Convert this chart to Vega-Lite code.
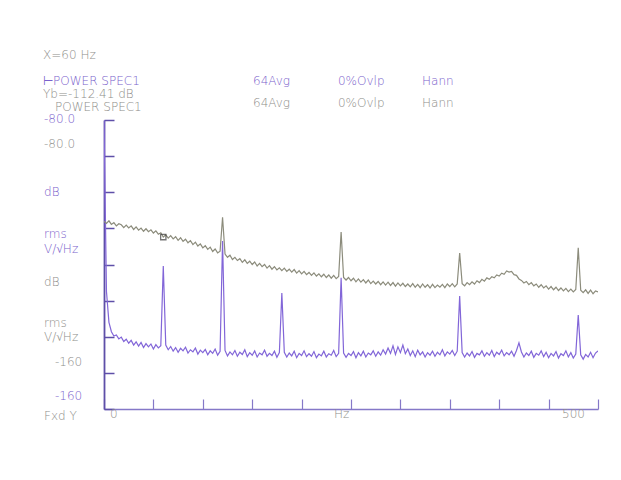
{
  "$schema": "https://vega.github.io/schema/vega-lite/v6.json",
  "autosize": "none",
  "width": 494,
  "height": 289,
  "padding": {"left": 104, "top": 120, "right": 23, "bottom": 71},
  "background": "#ffffff",
  "config": {"view": {"stroke": null}},
  "datasets": {
    "spec": [
{"f":0,"g":-108.0,"p":-80},{"f":2.5,"g":-108.6,"p":-127.5},{"f":5,"g":-107.9,"p":-136.0},{"f":7.5,"g":-108.9,"p":-138.6},
{"f":10,"g":-108.4,"p":-139.8},{"f":12.5,"g":-109.3,"p":-139.5},{"f":15,"g":-108.7,"p":-140.6},{"f":17.5,"g":-109.0,"p":-140.1},
{"f":20,"g":-109.8,"p":-141.3},{"f":22.5,"g":-109.1,"p":-140.7},{"f":25,"g":-109.9,"p":-141.8},{"f":27.5,"g":-109.3,"p":-141.0},
{"f":30,"g":-110.3,"p":-142.3},{"f":32.5,"g":-109.6,"p":-141.4},{"f":35,"g":-110.5,"p":-142.6},{"f":37.5,"g":-109.9,"p":-141.6},
{"f":40,"g":-110.8,"p":-143.0},{"f":42.5,"g":-110.1,"p":-141.9},{"f":45,"g":-110.9,"p":-142.8},{"f":47.5,"g":-110.4,"p":-142.0},
{"f":50,"g":-111.3,"p":-143.4},{"f":52.5,"g":-110.7,"p":-142.2},{"f":55,"g":-111.6,"p":-143.1},{"f":57.5,"g":-111.2,"p":-142.5},
{"f":60,"g":-112.4,"p":-120.4},{"f":62.5,"g":-111.8,"p":-142.3},{"f":65,"g":-112.7,"p":-143.6},{"f":67.5,"g":-112.0,"p":-142.7},
{"f":70,"g":-112.9,"p":-144.0},{"f":72.5,"g":-112.3,"p":-143.0},{"f":75,"g":-113.3,"p":-144.3},{"f":77.5,"g":-112.6,"p":-143.2},
{"f":80,"g":-113.6,"p":-143.9},{"f":82.5,"g":-113.0,"p":-142.9},{"f":85,"g":-114.0,"p":-144.5},{"f":87.5,"g":-113.4,"p":-143.6},
{"f":90,"g":-114.5,"p":-144.2},{"f":92.5,"g":-113.8,"p":-143.1},{"f":95,"g":-114.9,"p":-144.8},{"f":97.5,"g":-114.3,"p":-143.7},
{"f":100,"g":-115.4,"p":-144.4},{"f":102.5,"g":-114.8,"p":-143.5},{"f":105,"g":-115.8,"p":-145.0},{"f":107.5,"g":-115.2,"p":-143.9},
{"f":110,"g":-116.4,"p":-144.6},{"f":112.5,"g":-115.7,"p":-143.4},{"f":115,"g":-116.8,"p":-145.1},{"f":117.5,"g":-116.3,"p":-144.0},
{"f":120,"g":-106.9,"p":-113.5},{"f":122.5,"g":-117.1,"p":-143.8},{"f":125,"g":-118.0,"p":-145.3},{"f":127.5,"g":-117.4,"p":-144.2},
{"f":130,"g":-118.6,"p":-145.0},{"f":132.5,"g":-118.0,"p":-143.8},{"f":135,"g":-118.9,"p":-145.4},{"f":137.5,"g":-118.4,"p":-144.3},
{"f":140,"g":-119.4,"p":-144.9},{"f":142.5,"g":-118.7,"p":-143.6},{"f":145,"g":-119.7,"p":-145.5},{"f":147.5,"g":-119.1,"p":-144.4},
{"f":150,"g":-120.0,"p":-145.1},{"f":152.5,"g":-119.3,"p":-143.9},{"f":155,"g":-120.4,"p":-145.6},{"f":157.5,"g":-119.7,"p":-144.5},
{"f":160,"g":-120.6,"p":-145.0},{"f":162.5,"g":-120.0,"p":-143.7},{"f":165,"g":-121.0,"p":-145.4},{"f":167.5,"g":-120.3,"p":-144.6},
{"f":170,"g":-121.3,"p":-145.2},{"f":172.5,"g":-120.6,"p":-144.0},{"f":175,"g":-121.5,"p":-145.7},{"f":177.5,"g":-120.9,"p":-144.4},
{"f":180,"g":-121.7,"p":-127.9},{"f":182.5,"g":-121.0,"p":-144.3},{"f":185,"g":-121.9,"p":-145.6},{"f":187.5,"g":-121.3,"p":-144.5},
{"f":190,"g":-122.1,"p":-145.3},{"f":192.5,"g":-121.4,"p":-144.0},{"f":195,"g":-122.4,"p":-145.8},{"f":197.5,"g":-121.7,"p":-144.6},
{"f":200,"g":-122.6,"p":-145.2},{"f":202.5,"g":-121.9,"p":-143.9},{"f":205,"g":-122.8,"p":-145.5},{"f":207.5,"g":-122.2,"p":-144.7},
{"f":210,"g":-123.0,"p":-145.4},{"f":212.5,"g":-122.3,"p":-144.1},{"f":215,"g":-123.2,"p":-145.8},{"f":217.5,"g":-122.6,"p":-144.8},
{"f":220,"g":-123.4,"p":-145.3},{"f":222.5,"g":-122.7,"p":-144.0},{"f":225,"g":-123.6,"p":-145.6},{"f":227.5,"g":-122.9,"p":-144.7},
{"f":230,"g":-123.8,"p":-145.1},{"f":232.5,"g":-123.0,"p":-143.8},{"f":235,"g":-123.9,"p":-145.5},{"f":237.5,"g":-123.3,"p":-144.6},
{"f":240,"g":-111.0,"p":-123.7},{"f":242.5,"g":-123.6,"p":-144.5},{"f":245,"g":-124.3,"p":-145.7},{"f":247.5,"g":-123.6,"p":-144.6},
{"f":250,"g":-124.5,"p":-145.2},{"f":252.5,"g":-123.8,"p":-144.1},{"f":255,"g":-124.8,"p":-145.8},{"f":257.5,"g":-124.0,"p":-144.4},
{"f":260,"g":-124.9,"p":-145.3},{"f":262.5,"g":-124.2,"p":-144.0},{"f":265,"g":-125.1,"p":-145.6},{"f":267.5,"g":-124.3,"p":-144.5},
{"f":270,"g":-125.3,"p":-145.0},{"f":272.5,"g":-124.6,"p":-143.9},{"f":275,"g":-125.4,"p":-145.4},{"f":277.5,"g":-124.7,"p":-144.2},
{"f":280,"g":-125.6,"p":-145.1},{"f":282.5,"g":-124.8,"p":-143.6},{"f":285,"g":-125.7,"p":-144.8},{"f":287.5,"g":-124.9,"p":-143.1},
{"f":290,"g":-125.8,"p":-144.6},{"f":292.5,"g":-125.0,"p":-142.5},{"f":295,"g":-126.0,"p":-144.9},{"f":297.5,"g":-125.1,"p":-142.8},
{"f":300,"g":-125.9,"p":-144.4},{"f":302.5,"g":-125.2,"p":-142.3},{"f":305,"g":-126.1,"p":-144.7},{"f":307.5,"g":-125.4,"p":-143.4},
{"f":310,"g":-126.2,"p":-145.2},{"f":312.5,"g":-125.3,"p":-143.9},{"f":315,"g":-126.3,"p":-145.5},{"f":317.5,"g":-125.5,"p":-143.7},
{"f":320,"g":-126.4,"p":-145.0},{"f":322.5,"g":-125.4,"p":-144.2},{"f":325,"g":-126.3,"p":-145.6},{"f":327.5,"g":-125.6,"p":-144.4},
{"f":330,"g":-126.5,"p":-145.1},{"f":332.5,"g":-125.5,"p":-144.0},{"f":335,"g":-126.4,"p":-145.4},{"f":337.5,"g":-125.7,"p":-144.3},
{"f":340,"g":-126.3,"p":-145.0},{"f":342.5,"g":-125.5,"p":-143.6},{"f":345,"g":-126.4,"p":-145.3},{"f":347.5,"g":-125.4,"p":-144.2},
{"f":350,"g":-126.1,"p":-144.8},{"f":352.5,"g":-125.3,"p":-143.8},{"f":355,"g":-126.2,"p":-145.2},{"f":357.5,"g":-125.4,"p":-144.0},
{"f":360,"g":-116.8,"p":-128.7},{"f":362.5,"g":-125.3,"p":-144.4},{"f":365,"g":-125.9,"p":-145.6},{"f":367.5,"g":-125.0,"p":-144.5},
{"f":370,"g":-125.6,"p":-145.3},{"f":372.5,"g":-124.8,"p":-144.1},{"f":375,"g":-125.4,"p":-145.7},{"f":377.5,"g":-124.5,"p":-144.6},
{"f":380,"g":-125.0,"p":-145.0},{"f":382.5,"g":-124.1,"p":-143.9},{"f":385,"g":-124.6,"p":-145.4},{"f":387.5,"g":-123.7,"p":-144.4},
{"f":390,"g":-124.1,"p":-145.1},{"f":392.5,"g":-123.4,"p":-143.8},{"f":395,"g":-123.7,"p":-145.5},{"f":397.5,"g":-122.9,"p":-144.3},
{"f":400,"g":-123.2,"p":-144.9},{"f":402.5,"g":-122.4,"p":-143.7},{"f":405,"g":-122.7,"p":-145.3},{"f":407.5,"g":-121.8,"p":-144.4},
{"f":410,"g":-122.1,"p":-145.0},{"f":412.5,"g":-121.9,"p":-144.0},{"f":415,"g":-122.8,"p":-145.4},{"f":417.5,"g":-123.0,"p":-143.8},
{"f":420,"g":-124.0,"p":-141.7},{"f":422.5,"g":-124.4,"p":-144.2},{"f":425,"g":-125.1,"p":-145.6},{"f":427.5,"g":-124.7,"p":-144.5},
{"f":430,"g":-125.6,"p":-145.2},{"f":432.5,"g":-125.0,"p":-144.0},{"f":435,"g":-125.9,"p":-145.7},{"f":437.5,"g":-125.4,"p":-144.6},
{"f":440,"g":-126.3,"p":-145.1},{"f":442.5,"g":-125.6,"p":-143.9},{"f":445,"g":-126.5,"p":-145.5},{"f":447.5,"g":-125.9,"p":-144.3},
{"f":450,"g":-126.8,"p":-145.8},{"f":452.5,"g":-126.1,"p":-144.6},{"f":455,"g":-127.0,"p":-145.3},{"f":457.5,"g":-126.3,"p":-144.1},
{"f":460,"g":-127.2,"p":-145.9},{"f":462.5,"g":-126.5,"p":-144.7},{"f":465,"g":-127.3,"p":-145.2},{"f":467.5,"g":-126.6,"p":-143.9},
{"f":470,"g":-127.5,"p":-145.6},{"f":472.5,"g":-126.8,"p":-144.4},{"f":475,"g":-127.6,"p":-145.9},{"f":477.5,"g":-126.9,"p":-144.8},
{"f":480,"g":-115.4,"p":-134.0},{"f":482.5,"g":-127.1,"p":-145.0},{"f":485,"g":-127.8,"p":-146.2},{"f":487.5,"g":-127.0,"p":-144.9},
{"f":490,"g":-128.0,"p":-145.6},{"f":492.5,"g":-127.1,"p":-144.3},{"f":495,"g":-128.1,"p":-145.8},{"f":497.5,"g":-127.3,"p":-144.5},
{"f":500,"g":-127.6,"p":-143.9}
    ],
    "marker": [{"f": 60, "db": -112.41}],
    "labels": [
      {"f": -61.7, "db": -63.11, "t": "X=60 Hz", "c": "g"},
      {"f": -61.7, "db": -70.31, "t": "⊢POWER SPEC1", "c": "p"},
      {"f": 150.8, "db": -70.31, "t": "64Avg", "c": "p"},
      {"f": 236.8, "db": -70.31, "t": "0%Ovlp", "c": "p"},
      {"f": 321.9, "db": -70.31, "t": "Hann", "c": "p"},
      {"f": -61.7, "db": -73.91, "t": "Yb=-112.41 dB", "c": "g"},
      {"f": -49.6, "db": -77.51, "t": "POWER SPEC1", "c": "g"},
      {"f": 150.8, "db": -76.40, "t": "64Avg", "c": "g"},
      {"f": 236.8, "db": -76.40, "t": "0%Ovlp", "c": "g"},
      {"f": 321.9, "db": -76.40, "t": "Hann", "c": "g"},
      {"f": -60.7, "db": -80.83, "t": "-80.0", "c": "p"},
      {"f": -60.7, "db": -87.75, "t": "-80.0", "c": "g"},
      {"f": -60.7, "db": -101.04, "t": "dB", "c": "p"},
      {"f": -60.7, "db": -112.67, "t": "rms", "c": "p"},
      {"f": -60.7, "db": -116.82, "t": "V/√Hz", "c": "p"},
      {"f": -60.7, "db": -125.95, "t": "dB", "c": "g"},
      {"f": -60.7, "db": -137.30, "t": "rms", "c": "g"},
      {"f": -60.7, "db": -141.18, "t": "V/√Hz", "c": "g"},
      {"f": -49.6, "db": -148.10, "t": "-160", "c": "g"},
      {"f": -49.6, "db": -157.51, "t": "-160", "c": "p"},
      {"f": -60.7, "db": -163.05, "t": "Fxd Y", "c": "g"},
      {"f": 6.1, "db": -162.49, "t": "0", "c": "g"},
      {"f": 232.8, "db": -162.49, "t": "Hz", "c": "g"},
      {"f": 463.6, "db": -162.49, "t": "500", "c": "g"}
    ]
  },
  "encoding": {
    "x": {
      "field": "f", "type": "quantitative",
      "scale": {"domain": [0, 500], "nice": false, "zero": false},
      "axis": {
        "values": [0, 50, 100, 150, 200, 250, 300, 350, 400, 450, 500],
        "labels": false, "title": null, "grid": false,
        "tickSize": -10, "tickColor": "#8578c8", "tickWidth": 1.2,
        "domainColor": "#8578c8", "domainWidth": 1.5
      }
    },
    "y": {
      "field": "db", "type": "quantitative",
      "scale": {"domain": [-160, -80], "nice": false, "zero": false},
      "axis": {
        "values": [-160, -150, -140, -130, -120, -110, -100, -90, -80],
        "labels": false, "title": null, "grid": false,
        "tickSize": -10, "tickColor": "#5e4fa8", "tickWidth": 1.5,
        "domainColor": "#5e4fa8", "domainWidth": 1.8
      }
    }
  },
  "layer": [
    {
      "data": {"name": "spec"},
      "transform": [{"fold": ["p"], "as": ["s", "db"]}],
      "mark": {"type": "line", "color": "#8266d8", "strokeWidth": 1.2, "clip": true}
    },
    {
      "data": {"name": "spec"},
      "transform": [{"fold": ["g"], "as": ["s", "db"]}],
      "mark": {"type": "line", "color": "#8c8c7c", "strokeWidth": 1.2, "clip": true}
    },
    {
      "data": {"name": "marker"},
      "mark": {"type": "point", "shape": "square", "size": 28, "filled": false, "stroke": "#3a3a3a", "strokeWidth": 1.3}
    },
    {
      "data": {"name": "labels"},
      "mark": {"type": "text", "align": "left", "baseline": "alphabetic", "font": "DejaVu Sans", "fontSize": 12, "fontWeight": 200},
      "encoding": {
        "text": {"field": "t"},
        "color": {"field": "c", "type": "nominal", "scale": {"domain": ["p", "g"], "range": ["#7a62cc", "#8e8e8a"]}, "legend": null}
      }
    }
  ]
}
